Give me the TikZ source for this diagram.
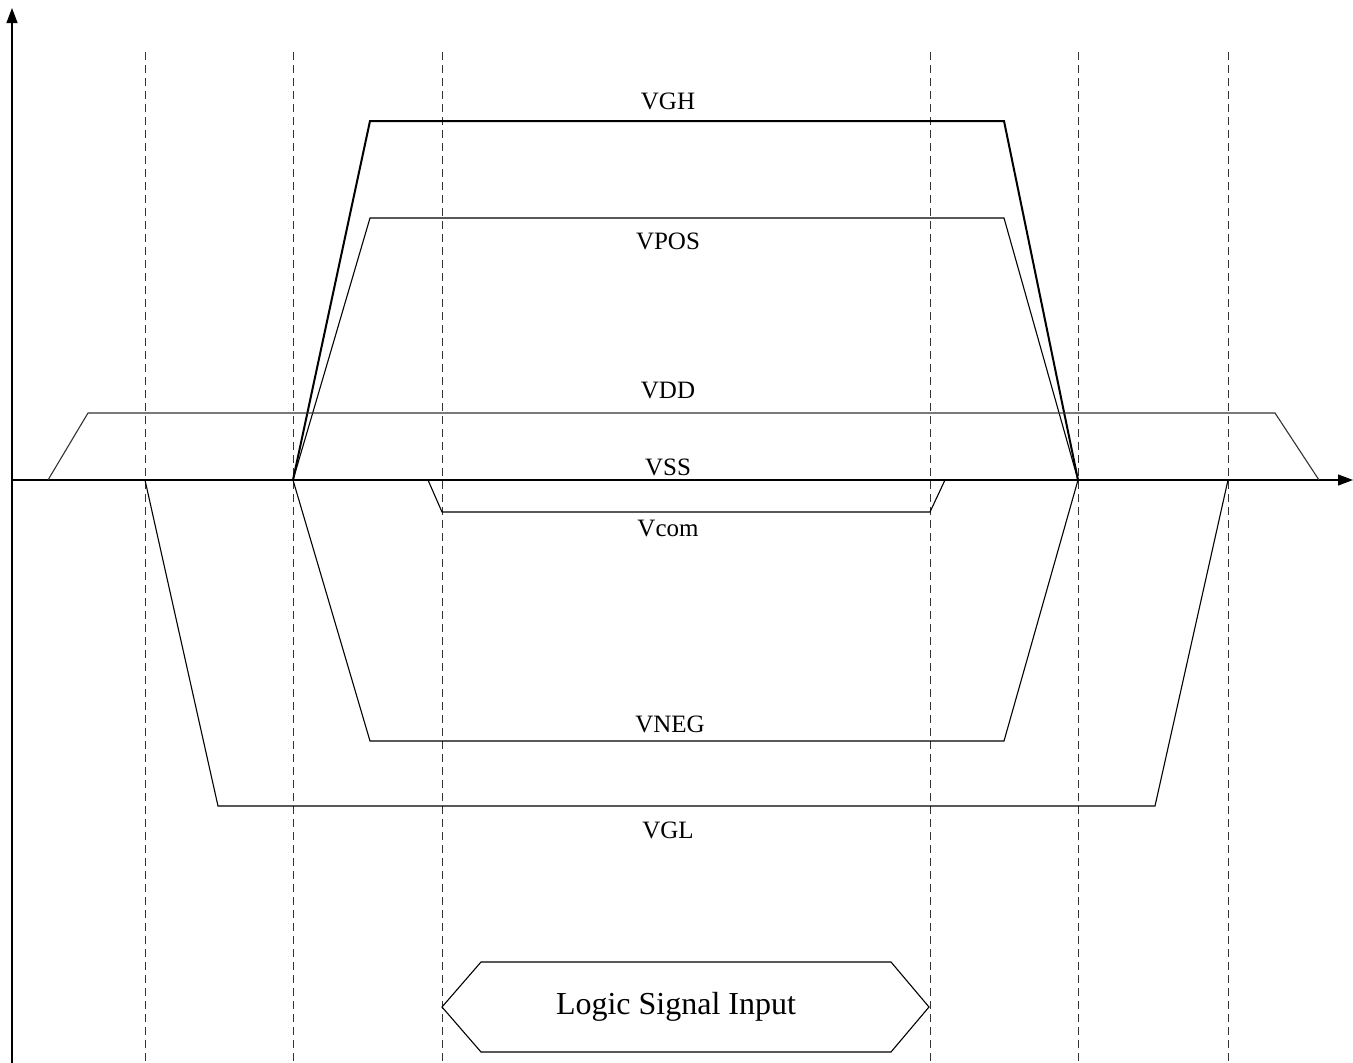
\documentclass[tikz,border=0pt]{standalone}
\usepackage{fontspec}
\setmainfont{Liberation Serif}
\usetikzlibrary{arrows.meta}
\begin{document}
\begin{tikzpicture}[x=1pt,y=-1pt,
  wave/.style={line width=1.1pt,line join=miter},
  wavethick/.style={line width=2pt,line join=miter},
  guide/.style={line width=0.9pt,draw=black!80,dash pattern=on 8pt off 5pt},
  axis/.style={line width=1.2pt,-{Triangle[length=15pt,width=11pt]}},
  lbl/.style={font=\fontsize{25}{28}\selectfont,inner sep=0pt},
  biglbl/.style={font=\fontsize{32}{36}\selectfont,inner sep=0pt}]
\useasboundingbox (0,0) rectangle (1353,1063);
% axes
\coordinate (o) at (12,480);
\coordinate (ytop) at (12,8);
\coordinate (ybot) at (12,1063);
\coordinate (xend) at (1353,480);
\draw[axis] (ybot) -- (ytop);
\draw[axis] (o) -- (xend);
\draw[line width=2pt] (12,871) -- (12,891);
% dashed guides
\foreach \x/\n in {145/a,293/b,442/c,930/d,1078/e,1228/f}{
  \coordinate (g\n top) at (\x,52);
  \coordinate (g\n bot) at (\x,1063);
  \draw[guide] (g\n top) -- (g\n bot);
}
% VGH
\draw[wavethick] (293,480) -- (370,121) -- (1004,121) -- (1078,480);
\node[lbl] (vgh) at (668,101) {VGH};
% VPOS
\draw[wave] (293,480) -- (370,218) -- (1004,218) -- (1078,480);
\node[lbl] (vpos) at (668,241) {VPOS};
% VDD
\draw[wave,draw=black!80] (48,480) -- (88,413) -- (1275,413) -- (1319,480);
\node[lbl] (vdd) at (668,390) {VDD};
% VSS
\node[lbl] (vss) at (668,467) {VSS};
% Vcom
\draw[wave] (428,480) -- (442,512) -- (930,512) -- (945,480);
\node[lbl] (vcom) at (668,528) {Vcom};
% VNEG
\draw[wave] (293,480) -- (370,741) -- (1004,741) -- (1078,480);
\node[lbl] (vneg) at (670,724) {VNEG};
% VGL
\draw[wave] (145,480) -- (218,806) -- (1155,806) -- (1228,480);
\node[lbl] (vgl) at (668,830) {VGL};
% Logic signal input
\draw[wave] (442,1007) -- (481,962) -- (891,962) -- (929,1007) -- (891,1052) -- (481,1052) -- cycle;
\node[biglbl] (lsi) at (676,1007) {Logic Signal Input};
\end{tikzpicture}
\end{document}
